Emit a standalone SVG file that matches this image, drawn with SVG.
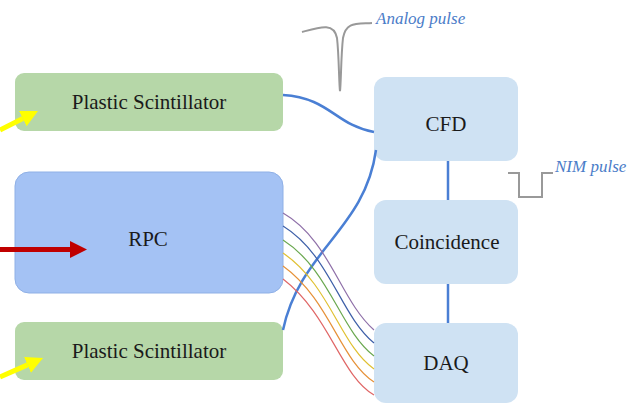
<svg xmlns="http://www.w3.org/2000/svg" width="633" height="405" viewBox="0 0 633 405">
<defs>
<style>
.lbl{font-family:"Liberation Serif","DejaVu Serif",serif;font-size:21px;fill:#1a1a1a;text-anchor:middle}
.note{font-family:"Liberation Serif","DejaVu Serif",serif;font-style:italic;font-size:17px;fill:#4a7cc8}
.scint{fill:#b6d7a8}
.mod{fill:#cfe2f3}
.link{fill:none;stroke:#4a7fd4;stroke-width:2.5}
.wire{fill:none;stroke-width:1.2}
.pulse{fill:none;stroke:#999;stroke-width:2}
</style>
<marker id="ay" viewBox="0 0 10 10" refX="0" refY="5" markerWidth="3.4" markerHeight="3.6" orient="auto"><path d="M0,0 L10,5 L0,10 z" fill="#ffff00"/></marker>
<marker id="ar" viewBox="0 0 10 10" refX="0" refY="5" markerWidth="3.4" markerHeight="3.6" orient="auto"><path d="M0,0 L10,5 L0,10 z" fill="#c00000"/></marker>
</defs>
<rect width="633" height="405" fill="#ffffff"/>
<g id="scint-top"><rect class="scint" x="15" y="73" width="268" height="58" rx="9"/><text class="lbl" x="149" y="109">Plastic Scintillator</text></g>
<g id="rpc"><rect x="15" y="172" width="268" height="121" rx="14" fill="#a4c2f4" stroke="#8fb0e6" stroke-width="1"/><text class="lbl" x="148" y="246">RPC</text></g>
<g id="scint-bottom"><rect class="scint" x="15" y="322" width="268" height="58" rx="9"/><text class="lbl" x="149" y="358">Plastic Scintillator</text></g>
<g id="cfd"><rect class="mod" x="374" y="77" width="144" height="84" rx="12"/><text class="lbl" x="446" y="131">CFD</text></g>
<g id="coincidence"><rect class="mod" x="374" y="200" width="144" height="84" rx="12"/><text class="lbl" x="447" y="249">Coincidence</text></g>
<g id="daq"><rect class="mod" x="374" y="323" width="144" height="80" rx="12"/><text class="lbl" x="446" y="370">DAQ</text></g>
<g id="analog-pulse">
<path class="pulse" d="M302,32 C320,27 334,22 337,38 C339,55 339,85 340,91 C341,85 341,55 343,38 C346,22 355,24 372,23"/>
<text class="note" x="376" y="24">Analog pulse</text>
</g>
<g id="nim-pulse">
<path class="pulse" d="M508,173 H519 V197 H542 V173 H553"/>
<text class="note" x="555" y="172">NIM pulse</text>
</g>
<g id="connectors">
<path class="link" d="M283,95 C330,98 335,125 374,132"/>
<path class="link" d="M283,330 C300,250 365,230 376,150"/>
<path class="link" d="M448,161 V200"/>
<path class="link" d="M448,284 V323"/>
<path class="wire" stroke="#8e6fa8" d="M283,213 C330,240 340,300 374,330"/>
<path class="wire" stroke="#3d5fa8" d="M283,226 C330,255 340,315 374,343"/>
<path class="wire" stroke="#6aa84f" d="M283,240 C330,270 340,330 374,356"/>
<path class="wire" stroke="#e0c030" d="M283,253 C330,285 340,345 374,369"/>
<path class="wire" stroke="#e69138" d="M283,266 C330,300 340,360 374,382"/>
<path class="wire" stroke="#e06666" d="M283,279 C330,315 340,375 374,395"/>
<path d="M0,130 L22.8,118.6" stroke="#ffff00" stroke-width="5" fill="none" marker-end="url(#ay)"/>
<path d="M0,377 L27.5,364.9" stroke="#ffff00" stroke-width="5" fill="none" marker-end="url(#ay)"/>
<path d="M0,249.5 L70,249.5" stroke="#c00000" stroke-width="5" fill="none" marker-end="url(#ar)"/>
</g>
</svg>
